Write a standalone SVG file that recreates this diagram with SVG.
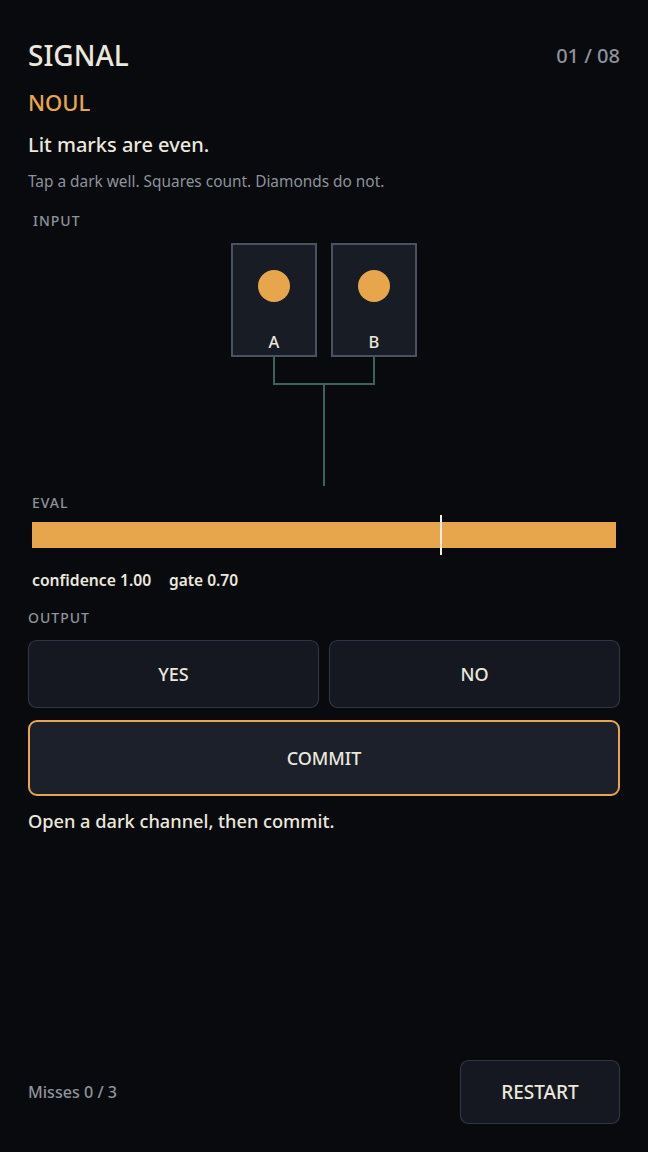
<svg xmlns="http://www.w3.org/2000/svg" width="648" height="1152" viewBox="0 0 648 1152">
<style>
text{font-family:"Noto Sans","Open Sans",sans-serif}
.cream{fill:#ece8dd}
.gray{fill:#8d939c}
.lab{font-size:14px;fill:#8d939c;letter-spacing:1px;font-weight:500}
.well{fill:#181c25;stroke:#4a5261;stroke-width:2}
.dot{fill:#e8a64c}
.wl{font-size:16.5px;fill:#ece8dd;text-anchor:middle;font-weight:500}
.wire{fill:none;stroke:#3d625c;stroke-width:2}
.btn{fill:#151820;stroke:#2f3542;stroke-width:1.2}
.bt{font-size:18px;fill:#ece8dd;text-anchor:middle;font-weight:500}
</style>
<rect width="648" height="1152" fill="#090a0e"/>
<g id="header">
<text x="28" y="66" font-size="28" class="cream" font-weight="500">SIGNAL</text>
<text x="620" y="63" font-size="20" class="gray" text-anchor="end" font-weight="500">01 / 08</text>
<text x="28" y="111" font-size="22" fill="#e8a64c" font-weight="500">NOUL</text>
<text x="28" y="152" font-size="20" class="cream" font-weight="500">Lit marks are even.</text>
<text x="28" y="187" font-size="15.4" class="gray">Tap a dark well. Squares count. Diamonds do not.</text>
<text x="33" y="226" class="lab">INPUT</text>
</g>
<g id="wires">
<path class="wire" d="M274 357V384M374 357V384M273 384H375M324 384V486"/>
</g>
<g id="well-A">
<rect class="well" x="232" y="244" width="84" height="112"/>
<circle class="dot" cx="274" cy="286" r="16"/>
<text class="wl" x="274" y="348">A</text>
</g>
<g id="well-B">
<rect class="well" x="332" y="244" width="84" height="112"/>
<circle class="dot" cx="374" cy="286" r="16"/>
<text class="wl" x="374" y="348">B</text>
</g>
<g id="eval">
<text x="32" y="508" class="lab">EVAL</text>
<rect x="32" y="522" width="584" height="26" fill="#e8a64c"/>
<rect x="440" y="515" width="2" height="40" fill="#f2eee6"/>
<text x="32" y="586" font-size="15.7" class="cream" font-weight="600">confidence 1.00</text>
<text x="169" y="586" font-size="15.5" class="cream" font-weight="600">gate 0.70</text>
</g>
<g id="output">
<text x="28" y="623" class="lab">OUTPUT</text>
</g>
<g id="yes">
<rect class="btn" x="28.5" y="640.5" width="290" height="67" rx="8"/>
<text class="bt" x="173.5" y="681">YES</text>
</g>
<g id="no">
<rect class="btn" x="329.5" y="640.5" width="290" height="67" rx="8"/>
<text class="bt" x="474.5" y="681">NO</text>
</g>
<g id="commit">
<rect x="29" y="721" width="590" height="74" rx="8" fill="#1b202a" stroke="#e8a64c" stroke-width="2"/>
<text class="bt" x="324" y="765">COMMIT</text>
</g>
<text x="28" y="828" font-size="18.2" class="cream" font-weight="500">Open a dark channel, then commit.</text>
<g id="footer">
<text x="28" y="1098" font-size="16.1" class="gray" font-weight="500">Misses 0 / 3</text>
</g>
<g id="restart">
<rect class="btn" x="460.5" y="1060.5" width="159" height="63" rx="8"/>
<text class="bt" x="540" y="1099" style="font-size:19px">RESTART</text>
</g>
</svg>
